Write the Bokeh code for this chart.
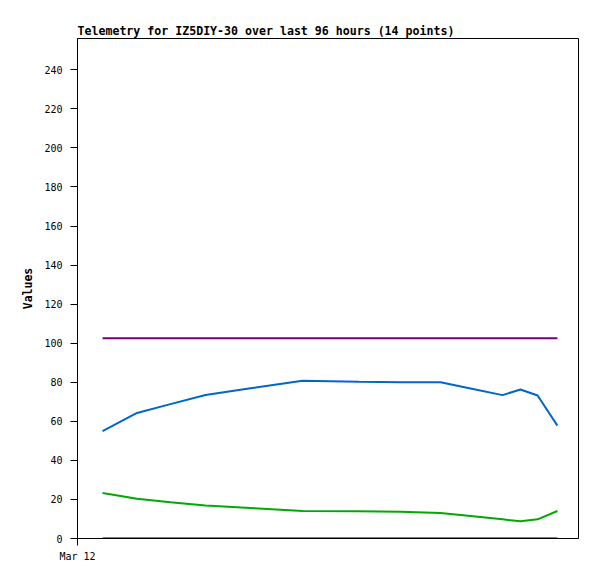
from bokeh.plotting import figure
from bokeh.models import FixedTicker, Range1d
from bokeh.embed import file_html
from bokeh.resources import INLINE

# hours since Mar 12 00:00
hours = [1.2, 2.85, 4.45, 6.13, 8.29, 10.78, 13.46, 15.47, 17.39, 18.83, 20.36, 21.22, 22.04, 22.99]
series_purple = [102.5] * 14
series_blue = [55.0, 64.3, 68.8, 73.5, 76.9, 80.8, 80.2, 80.0, 80.0, 76.8, 73.4, 76.3, 73.2, 57.8]
series_green = [23.3, 20.3, 18.6, 16.9, 15.6, 14.1, 14.0, 13.7, 13.1, 11.5, 9.8, 8.8, 9.8, 14.1]
series_black = [0.0] * 14
y_ticks = list(range(0, 241, 20))
x_tick_labels = {0: "Mar 12"}

MONO = "DejaVu Sans Mono"

p = figure(width=589, height=571, output_backend="svg", toolbar_location=None,
           x_range=Range1d(0, 24), y_range=Range1d(0, 256),
           min_border_left=77, min_border_right=11, min_border_top=38, min_border_bottom=33,
           title="Telemetry for IZ5DIY-30 over last 96 hours (14 points)")

p.title.text_font = MONO
p.title.text_font_size = "11.6px"
p.title.text_font_style = "bold"
p.title.text_color = "black"
p.title.offset = 0
p.title.standoff = 2

p.xgrid.visible = False
p.ygrid.visible = False
p.outline_line_color = "black"
p.outline_line_width = 1
p.outline_line_alpha = 1

p.yaxis.ticker = FixedTicker(ticks=y_ticks)
p.yaxis.minor_tick_line_color = None
p.yaxis.major_tick_out = 7
p.yaxis.major_tick_in = 0
p.yaxis.major_label_standoff = 8
p.yaxis.axis_label = "Values"
p.yaxis.axis_label_text_font = MONO
p.yaxis.axis_label_text_font_size = "11.5px"
p.yaxis.axis_label_text_font_style = "bold"
p.yaxis.axis_label_text_color = "black"
p.yaxis.axis_label_standoff = 6
p.yaxis.major_label_text_font = MONO
p.yaxis.major_label_text_font_size = "10px"
p.yaxis.major_label_text_color = "black"
p.yaxis.axis_line_color = "black"
p.yaxis.major_tick_line_color = "black"

p.xaxis.ticker = FixedTicker(ticks=list(x_tick_labels.keys()))
p.xaxis.major_label_overrides = x_tick_labels
p.xaxis.minor_tick_line_color = None
p.xaxis.major_tick_out = 7
p.xaxis.major_tick_in = 0
p.xaxis.major_label_standoff = 5
p.xaxis.major_label_text_font = MONO
p.xaxis.major_label_text_font_size = "10px"
p.xaxis.major_label_text_color = "black"
p.xaxis.axis_line_color = "black"
p.xaxis.major_tick_line_color = "black"

p.line(hours, series_purple, line_color="#770077", line_width=2)
p.line(hours, series_blue, line_color="#0066cc", line_width=2)
p.line(hours, series_green, line_color="#00aa00", line_width=2)
p.line(hours, series_black, line_color="black", line_width=2)

open("out.html", "w").write(file_html(p, INLINE))
